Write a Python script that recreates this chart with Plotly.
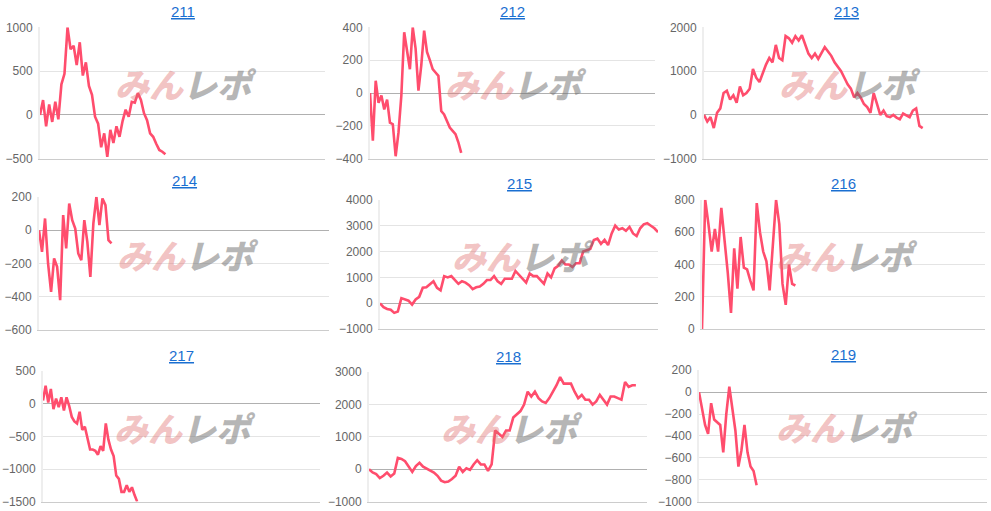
import plotly.graph_objects as go

W, H = 991, 511

titles = ['211', '212', '213', '214', '215', '216', '217', '218', '219']

# one list per machine
y211 = [0, 170, -130, 120, -80, 150, -50, 350, 470, 1000, 750, 790, 570, 830, 450, 600, 330, 230,
        -20, -100, -370, -210, -480, -170, -320, -130, -250, -70, 60, -20, 150, 140, 250, 170, 20,
        -60, -210, -250, -330, -400, -420, -450]
y212 = [0, -290, 75, -60, -15, -100, -40, -180, -190, -385, -240, -15, 370, 250, 145, 400, 270, 15,
        170, 380, 250, 200, 145, 125, 105, -110, -130, -170, -210, -230, -250, -300, -365]
y213 = [0, -150, -50, -300, 50, 150, 500, 550, 350, 450, 280, 650, 450, 500, 600, 1050, 850, 750, 950,
        1150, 1300, 1200, 1600, 1300, 1250, 1800, 1750, 1650, 1800, 1700, 1820, 1600, 1400, 1300, 1400,
        1280, 1400, 1550, 1450, 1350, 1200, 1100, 1000, 850, 700, 600, 400, 500, 400, 250, 180, 50, 500,
        250, 0, 100, -30, -50, 0, -60, -100, 30, -20, -50, 100, 150, -250, -300]
y214 = [0, -130, 70, -200, -370, -170, -220, -420, 90, -110, 160, 60, 10, -140, -180, 60, -70, -280,
        40, 200, 30, 190, 150, -60, -80]
y215 = [0, -150, -220, -250, -370, -320, 200, 150, 100, -50, 150, 250, 600, 620, 720, 850, 600, 500,
        1050, 1000, 1050, 900, 750, 850, 800, 700, 550, 620, 650, 750, 900, 900, 1050, 850, 750, 950, 950,
        950, 1250, 1100, 950, 800, 1150, 1050, 1050, 900, 750, 1150, 1000, 1350, 1450, 1650, 1500, 1500,
        1400, 1550, 1550, 2000, 2050, 2100, 2450, 2500, 2300, 2450, 2250, 2700, 3000, 2850, 2900, 2800,
        2950, 2700, 2600, 2900, 3050, 3100, 3000, 2900, 2750]
y216 = [0, 800, 650, 480, 620, 480, 750, 550, 350, 100, 500, 250, 570, 380, 370, 300, 240, 780, 600,
        480, 420, 240, 500, 800, 650, 280, 150, 400, 280, 270]
y217 = [50, 280, 20, 230, -80, 80, -50, 100, -100, 100, -30, -200, -270, -300, -120, -400, -350, -550,
        -700, -700, -720, -780, -650, -720, -300, -550, -700, -800, -1100, -1150, -1350, -1350, -1250,
        -1350, -1280, -1400, -1500]
y218 = [0, -100, -150, -270, -200, -100, -220, -130, 350, 320, 250, 100, -80, 100, 200, 80, 20, -50, -100,
        -200, -350, -400, -380, -300, -200, 80, -80, 30, -20, 150, 280, 150, 150, -50, 150, 1200, 1100,
        1000, 1200, 1200, 1600, 1700, 1800, 2000, 2400, 2250, 2400, 2200, 2100, 2050, 2200, 2400, 2600,
        2850, 2650, 2650, 2650, 2400, 2200, 2300, 2150, 2150, 2000, 2100, 2300, 2150, 2000, 2250, 2250,
        2200, 2150, 2700, 2550, 2600, 2600]
y219 = [0, -150, -300, -380, -100, -250, -280, -300, -550, -200, 50, -150, -350, -680, -530, -300, -550,
        -680, -720, -850]

series = [y211, y212, y213, y214, y215, y216, y217, y218, y219]
# how far along the x axis (in %) each line reaches
extent = [44, 32, 77, 25, 100, 33, 34, 96, 20]
yranges = [(-500, 1000), (-400, 400), (-1000, 2000), (-600, 200), (-1000, 4000), (0, 800),
           (-1500, 500), (-1000, 3000), (-1000, 200)]
dticks = [500, 200, 1000, 200, 1000, 200, 500, 1000, 200]

# plot areas in pixels (as seen in the reference): x0, x1, ytop, ybottom
boxes = [(40, 325, 27, 158), (370, 655, 27, 158), (704, 988, 27, 158),
         (39, 329, 196, 329), (380, 658, 199, 328), (702, 985, 199, 328),
         (43, 320, 370, 500), (369, 647, 371, 500), (699, 987, 369, 500)]


def py(t):
    # screen px -> paper y, with a small correction seen in the render
    return min(1.0, max(0.0, 1 - ((t - 6.7) / 0.97) / H))


fig = go.Figure()
ann = []
for i, ys in enumerate(series):
    n = i + 1
    sfx = '' if n == 1 else str(n)
    x0, x1, yt, yb = boxes[i]
    step = extent[i] / (len(ys) - 1)
    xs = [k * step for k in range(len(ys))]
    fig.add_trace(go.Scatter(x=xs, y=ys, mode='lines', xaxis='x' + sfx, yaxis='y' + sfx,
                             line=dict(color='#ff4d6d', width=2.6), showlegend=False, hoverinfo='skip'))
    fig.update_layout(**{
        'xaxis' + sfx: dict(domain=[x0 / W, x1 / W], range=[0, 100], anchor='y' + sfx,
                            showticklabels=False, showgrid=False, zeroline=False,
                            showline=True, linecolor='#cccccc', linewidth=1),
        'yaxis' + sfx: dict(domain=[py(yb), py(yt)], range=list(yranges[i]), dtick=dticks[i],
                            anchor='x' + sfx, gridcolor='#e4e4e4', zeroline=True, zerolinecolor='#b0b0b0',
                            zerolinewidth=1, showline=True, linecolor='#eeeeee', linewidth=2,
                            tickfont=dict(size=12, color='#666666'), ticks='', ticklabelstandoff=3),
    })
    cx = (x0 + x1) / 2 / W
    ann.append(dict(xref='paper', yref='paper', x=cx, y=py(yt - 16), text='<u>' + titles[i] + '</u>',
                    showarrow=False, font=dict(size=15, color='#1a6fd1'), xanchor='center', yanchor='middle'))
    ann.append(dict(xref='paper', yref='paper', x=cx + 0.004, y=py(yt + 0.43 * (yb - yt)),
                    text='<i><span style="color:rgba(225,110,110,0.42)">みん</span>'
                         '<span style="color:rgba(110,110,110,0.5)">レポ</span></i>',
                    showarrow=False, font=dict(size=34, family='Noto Sans CJK JP', weight=900),
                    xanchor='center', yanchor='middle'))

fig.update_layout(width=W, height=H, margin=dict(l=0, r=0, t=0, b=0), annotations=ann,
                  plot_bgcolor='white', paper_bgcolor='white',
                  font=dict(family='Liberation Sans, Arial, sans-serif'))
fig.write_html('out.html', config={'displayModeBar': False},
               post_script="document.body.style.margin='0';")
